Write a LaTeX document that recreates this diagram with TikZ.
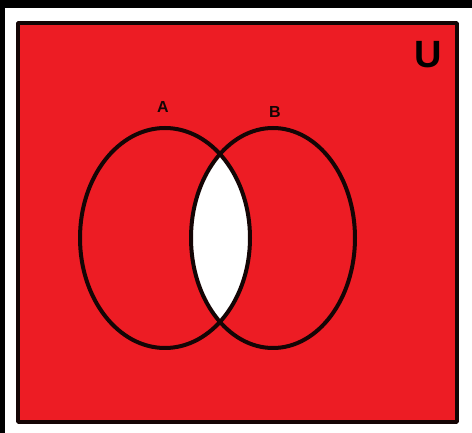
\documentclass[tikz,border=0pt]{standalone}
\definecolor{vennred}{RGB}{237,28,36}
\definecolor{edgedark}{RGB}{20,5,5}
\usepackage{fontspec}
\setmainfont{Liberation Sans}
\usepackage{tikz}
\usetikzlibrary{positioning}

\begin{document}
\begin{tikzpicture}[x=1pt, y=-1pt, line join=round]
    \useasboundingbox (0,0) rectangle (472,433);
    \fill[white] (0,0) rectangle (472,433);
    \fill[black] (0,0) rectangle (5,433);
    \fill[black] (0,0) rectangle (472,8);
    % universe
    \draw[draw=edgedark, fill=vennred, line width=3.5pt] (18,23) rectangle (457,422);
    % A and B, only the overlap left white
    \begin{scope}
      \clip (165,238) ellipse [x radius=85, y radius=110];
      \fill[white] (273,238) ellipse [x radius=82, y radius=110];
    \end{scope}
    \draw[draw=edgedark, line width=4pt] (165,238) ellipse [x radius=85, y radius=110];
    \draw[draw=edgedark, line width=4pt] (273,238) ellipse [x radius=82, y radius=110];
    \node[font=\bfseries\fontsize{16}{16}\selectfont, text=edgedark] (labelA) at (163,107) {A};
    \node[font=\bfseries\fontsize{16}{16}\selectfont, text=edgedark] (labelB) at (275,112) {B};
    \node[font=\bfseries\fontsize{38}{38}\selectfont, text=black] (labelU) at (428,55) {U};
  \end{tikzpicture}
\end{document}
